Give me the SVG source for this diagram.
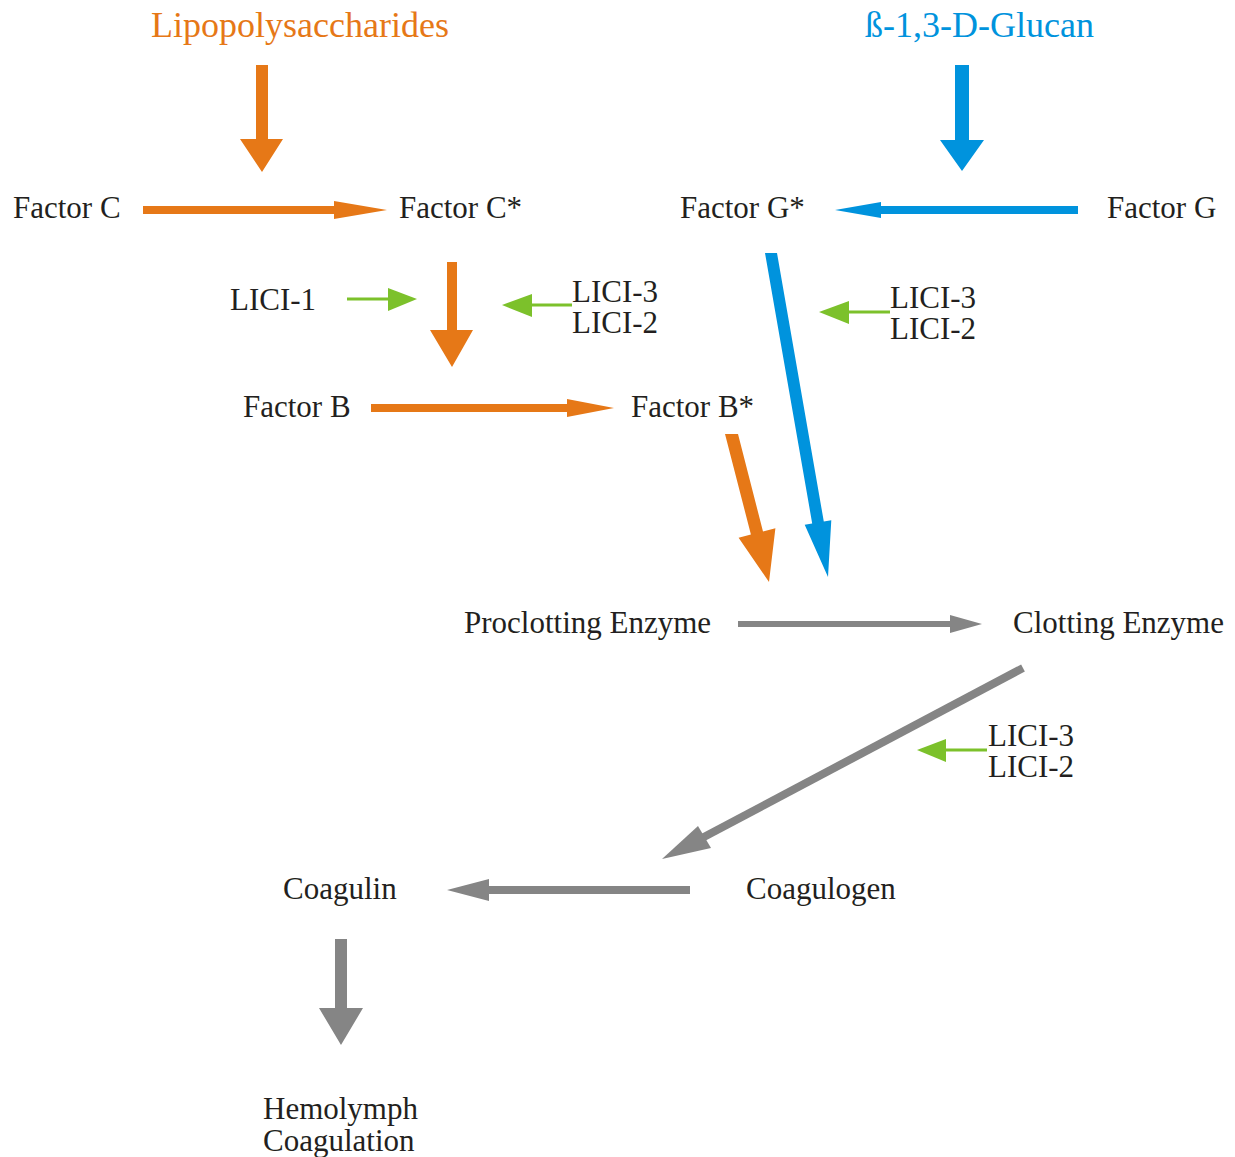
<svg xmlns="http://www.w3.org/2000/svg" width="1235" height="1157" viewBox="0 0 1235 1157">
<style>
text{font-family:"Liberation Serif","Times New Roman",serif;font-size:31px;fill:#231f20}
.title{font-size:36px}
.lps{fill:#e67817}
.glu{fill:#0093dd}
.or{fill:#e67817}
.bl{fill:#0093dd}
.gr{fill:#858585}
.gn{fill:#7cc12b}
.gline{stroke:#7cc12b;stroke-width:3;fill:none}
.grline{stroke:#858585;stroke-width:8;fill:none}
</style>
<rect width="1235" height="1157" fill="#ffffff"/>
<g id="nodes">
<g id="lps"><text class="title lps" x="151" y="37">Lipopolysaccharides</text></g>
<g id="glucan"><text class="title glu" x="865" y="37">ß-1,3-D-Glucan</text></g>
<g id="factorC"><text x="13" y="218">Factor C</text></g>
<g id="factorCstar"><text x="399" y="218">Factor C*</text></g>
<g id="factorGstar"><text x="680" y="218">Factor G*</text></g>
<g id="factorG"><text x="1107" y="218">Factor G</text></g>
<g id="lici1"><text x="230" y="310">LICI-1</text></g>
<g id="lici32a"><text x="572" y="302">LICI-3</text><text x="572" y="333">LICI-2</text></g>
<g id="factorB"><text x="243" y="417">Factor B</text></g>
<g id="factorBstar"><text x="631" y="417">Factor B*</text></g>
<g id="lici32b"><text x="890" y="308">LICI-3</text><text x="890" y="339">LICI-2</text></g>
<g id="proclotting"><text x="464" y="633">Proclotting Enzyme</text></g>
<g id="clotting"><text x="1013" y="633">Clotting Enzyme</text></g>
<g id="lici32c"><text x="988" y="746">LICI-3</text><text x="988" y="777">LICI-2</text></g>
<g id="coagulin"><text x="283" y="899">Coagulin</text></g>
<g id="coagulogen"><text x="746" y="899">Coagulogen</text></g>
<g id="hemolymph"><text x="263" y="1119">Hemolymph</text><text x="263" y="1151">Coagulation</text></g>
</g>
<g id="connectors">
<!-- orange -->
<polygon class="or" points="256,65 268,65 268,139 283,139 262,172 240,139 256,139"/>
<polygon class="or" points="143,206 334,206 334,201 387,210 334,219 334,214 143,214"/>
<polygon class="or" points="447,262 457,262 457,330 473,330 452,367 430,330 447,330"/>
<polygon class="or" points="371,404 567,404 567,399 614,408 567,417 567,412 371,412"/>
<polygon class="or" points="725,434 738,434 763,531.5 775.4,528.3 769,582 738.6,537.7 750.9,534.5"/>
<!-- blue -->
<polygon class="bl" points="955,65 969,65 969,140 984,140 962,171 940,140 955,140"/>
<polygon class="bl" points="1078,206 881,206 881,202 835,210 881,218 881,214 1078,214"/>
<polygon class="bl" points="765,253 777,253 823.8,521.5 831.3,520.2 828,577 804.7,524.8 812.2,523.5"/>
<!-- green -->
<line class="gline" x1="347" y1="299" x2="392" y2="299"/>
<polygon class="gn" points="388,288 417,299 388,311"/>
<line class="gline" x1="572" y1="305" x2="528" y2="305"/>
<polygon class="gn" points="532,294 502,305 532,317"/>
<line class="gline" x1="890" y1="312" x2="846" y2="312"/>
<polygon class="gn" points="849,301 819,312 849,324"/>
<line class="gline" x1="987" y1="750" x2="942" y2="750"/>
<polygon class="gn" points="946,739 917,750 946,762"/>
<!-- gray -->
<polygon class="gr" points="738,621 950,621 950,615 982,624 950,633 950,627 738,627"/>
<line class="grline" x1="1023" y1="668" x2="702" y2="838"/>
<polygon class="gr" points="662,859 698,826 711,848"/>
<polygon class="gr" points="690,886 489,886 489,879 447,890 489,901 489,894 690,894"/>
<polygon class="gr" points="335,939 347,939 347,1008 363,1008 341,1045 319,1008 335,1008"/>
</g>
</svg>
